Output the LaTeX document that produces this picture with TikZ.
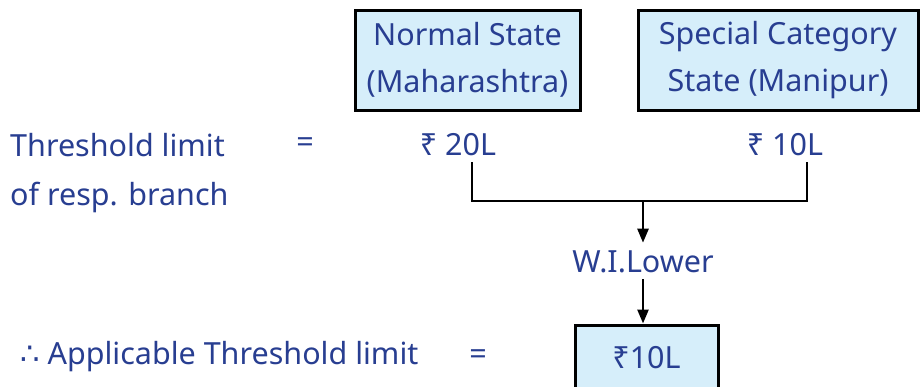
\documentclass[tikz,border=0pt]{standalone}
\usepackage{fontspec}
\setmainfont{Noto Sans}
\newfontfamily\symfont{DejaVu Sans}
\usepackage{xcolor}
\usetikzlibrary{arrows.meta}
\definecolor{txtblue}{RGB}{40,62,145}
\definecolor{boxfill}{RGB}{214,238,250}

\begin{document}
\begin{tikzpicture}[x=1pt,y=-1pt,
 every node/.style={text=txtblue,font=\fontsize{30.5}{47}\selectfont,inner sep=0pt},
 statebox/.style={draw=black,line width=3pt,fill=boxfill,align=center},
 link/.style={line width=2.5pt},
 arr/.style={link,-{Triangle[length=14pt,width=11pt]}}]
\useasboundingbox (0,0) rectangle (923,386);

\node[statebox,minimum width=225pt,minimum height=100pt] (normal) at (467.5,60)
 {Normal State\\(Maharashtra)};
\node[statebox,minimum width=280pt,minimum height=100pt] (special) at (778,60)
 {Special Category\\State (Manipur)};

\node[anchor=west] (thr) at (10,145) {Threshold limit};
\node (eq1) at (305,145) {=};
\node[anchor=west] (resp) at (10,197) {of resp. branch};
\node (rs20) at (458,145) {₹ 20L};
\node (rs10) at (785,145) {₹ 10L};

\coordinate (a20) at (472,162);
\coordinate (a10) at (807,162);
\coordinate (mid) at (643,201);
\draw[link] (a20) |- (mid) -| (a10);

\node (wil) at (643,262) {W.I.Lower};
\node[statebox,minimum width=143pt,minimum height=66pt] (result) at (646.5,358) {₹10L};
\draw[arr,shorten >=8pt] (mid) -- (mid |- wil.north);
\draw[arr] ([yshift=-6pt]wil.south) -- (wil.south |- result.north);

\node[anchor=west] (app) at (20,357) {{\symfont ∴} Applicable Threshold limit};
\node (eq2) at (478,357) {=};
\end{tikzpicture}
\end{document}
